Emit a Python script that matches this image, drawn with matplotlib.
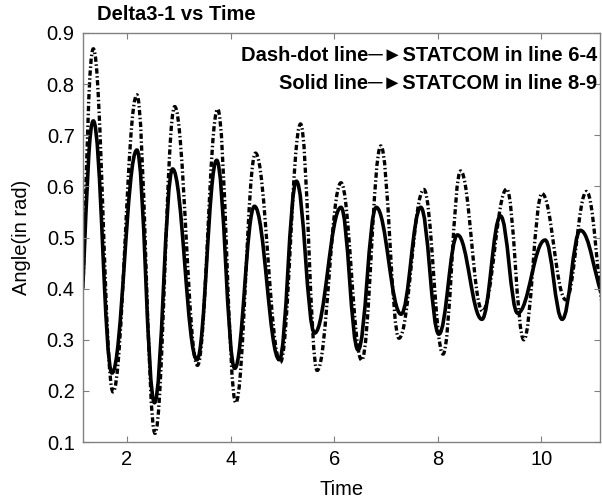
import matplotlib
matplotlib.use("Agg")
import matplotlib.pyplot as plt
from matplotlib.path import Path
from matplotlib.patches import PathPatch

plt.rcParams['font.family'] = ['Liberation Sans', 'DejaVu Sans']

# Extrema (time, angle)
dash_t = [1.15, 1.35, 1.73, 2.19, 2.54, 2.92, 3.36, 3.75, 4.10, 4.48, 4.96, 5.35, 5.67,
          6.13, 6.53, 6.90, 7.25, 7.73, 8.10, 8.44, 8.86, 9.33, 9.66, 10.01, 10.47, 10.87, 11.20]
dash_v = [0.40, 0.869, 0.198, 0.779, 0.117, 0.756, 0.250, 0.751, 0.177, 0.665, 0.256, 0.722, 0.240,
          0.607, 0.260, 0.679, 0.303, 0.594, 0.272, 0.630, 0.356, 0.595, 0.300, 0.586, 0.378, 0.590, 0.35]

solid_t = [1.15, 1.35, 1.71, 2.19, 2.53, 2.88, 3.35, 3.73, 4.08, 4.46, 4.94, 5.27, 5.62,
           6.13, 6.46, 6.81, 7.29, 7.67, 8.02, 8.38, 8.85, 9.21, 9.54, 10.07, 10.40, 10.75, 11.20]
solid_v = [0.41, 0.728, 0.235, 0.671, 0.177, 0.634, 0.261, 0.651, 0.244, 0.561, 0.261, 0.610, 0.313,
           0.559, 0.280, 0.559, 0.350, 0.559, 0.311, 0.505, 0.340, 0.542, 0.352, 0.495, 0.340, 0.514, 0.38]

x_ticks = [2, 4, 6, 8, 10]
y_ticks = [0.1, 0.2, 0.3, 0.4, 0.5, 0.6, 0.7, 0.8, 0.9]

title_text = "Delta3-1 vs Time"
legend1 = "Dash-dot line\u2500\u25BASTATCOM in line 6-4"
legend2 = "Solid line\u2500\u25BASTATCOM in line 8-9"


def smooth_path(ts, vs, k=0.40):
    verts = [(ts[0], vs[0])]
    codes = [Path.MOVETO]
    n = len(ts)
    for i in range(n - 1):
        t0, v0, t1, v1 = ts[i], vs[i], ts[i + 1], vs[i + 1]
        dt = t1 - t0
        if i == 0:
            c1 = (t0 + k * dt, v0 + 0.6 * (v1 - v0))
        else:
            c1 = (t0 + k * dt, v0)
        if i == n - 2:
            c2 = (t1 - k * dt, v1 + 0.3 * (v0 - v1))
        else:
            c2 = (t1 - k * dt, v1)
        verts += [c1, c2, (t1, v1)]
        codes += [Path.CURVE4] * 3
    return Path(verts, codes)


fig = plt.figure(figsize=(6.02, 5.01), dpi=100)
ax = fig.add_axes([83 / 602, 1 - 442 / 501, (600 - 83) / 602, (442 - 33) / 501])

ax.add_patch(PathPatch(smooth_path(dash_t, dash_v), fill=False, edgecolor='black',
                       linewidth=2.4, linestyle=(0, (1.6, 0.75, 0.45, 0.75)), capstyle='butt'))
ax.add_patch(PathPatch(smooth_path(solid_t, solid_v), fill=False, edgecolor='black',
                       linewidth=2.6, linestyle='-'))

ax.set_xlim(1.15, 11.13)
ax.set_ylim(0.1, 0.9)
ax.set_xticks(x_ticks)
ax.set_yticks(y_ticks)
ax.set_yticklabels([f"{v:.1f}" for v in y_ticks])
ax.tick_params(direction='in', length=4, width=0.8, color='#808080', labelsize=14.5,
               top=True, right=True, pad=6)
for s in ax.spines.values():
    s.set_color('#808080')
    s.set_linewidth(1.0)

ax.set_xlabel("Time", fontsize=14.5, labelpad=8)
ax.set_ylabel("Angle(in rad)", fontsize=14.5, labelpad=11)

fig.text(97 / 602, 1 - 14.5 / 501, title_text, fontsize=14.5, fontweight='bold',
         ha='left', va='center')
ax.text(0.995, 0.946, legend1, transform=ax.transAxes, fontsize=14.5, fontweight='bold',
        ha='right', va='center')
ax.text(0.995, 0.876, legend2, transform=ax.transAxes, fontsize=14.5, fontweight='bold',
        ha='right', va='center')

fig.savefig("out.png", dpi=100)
